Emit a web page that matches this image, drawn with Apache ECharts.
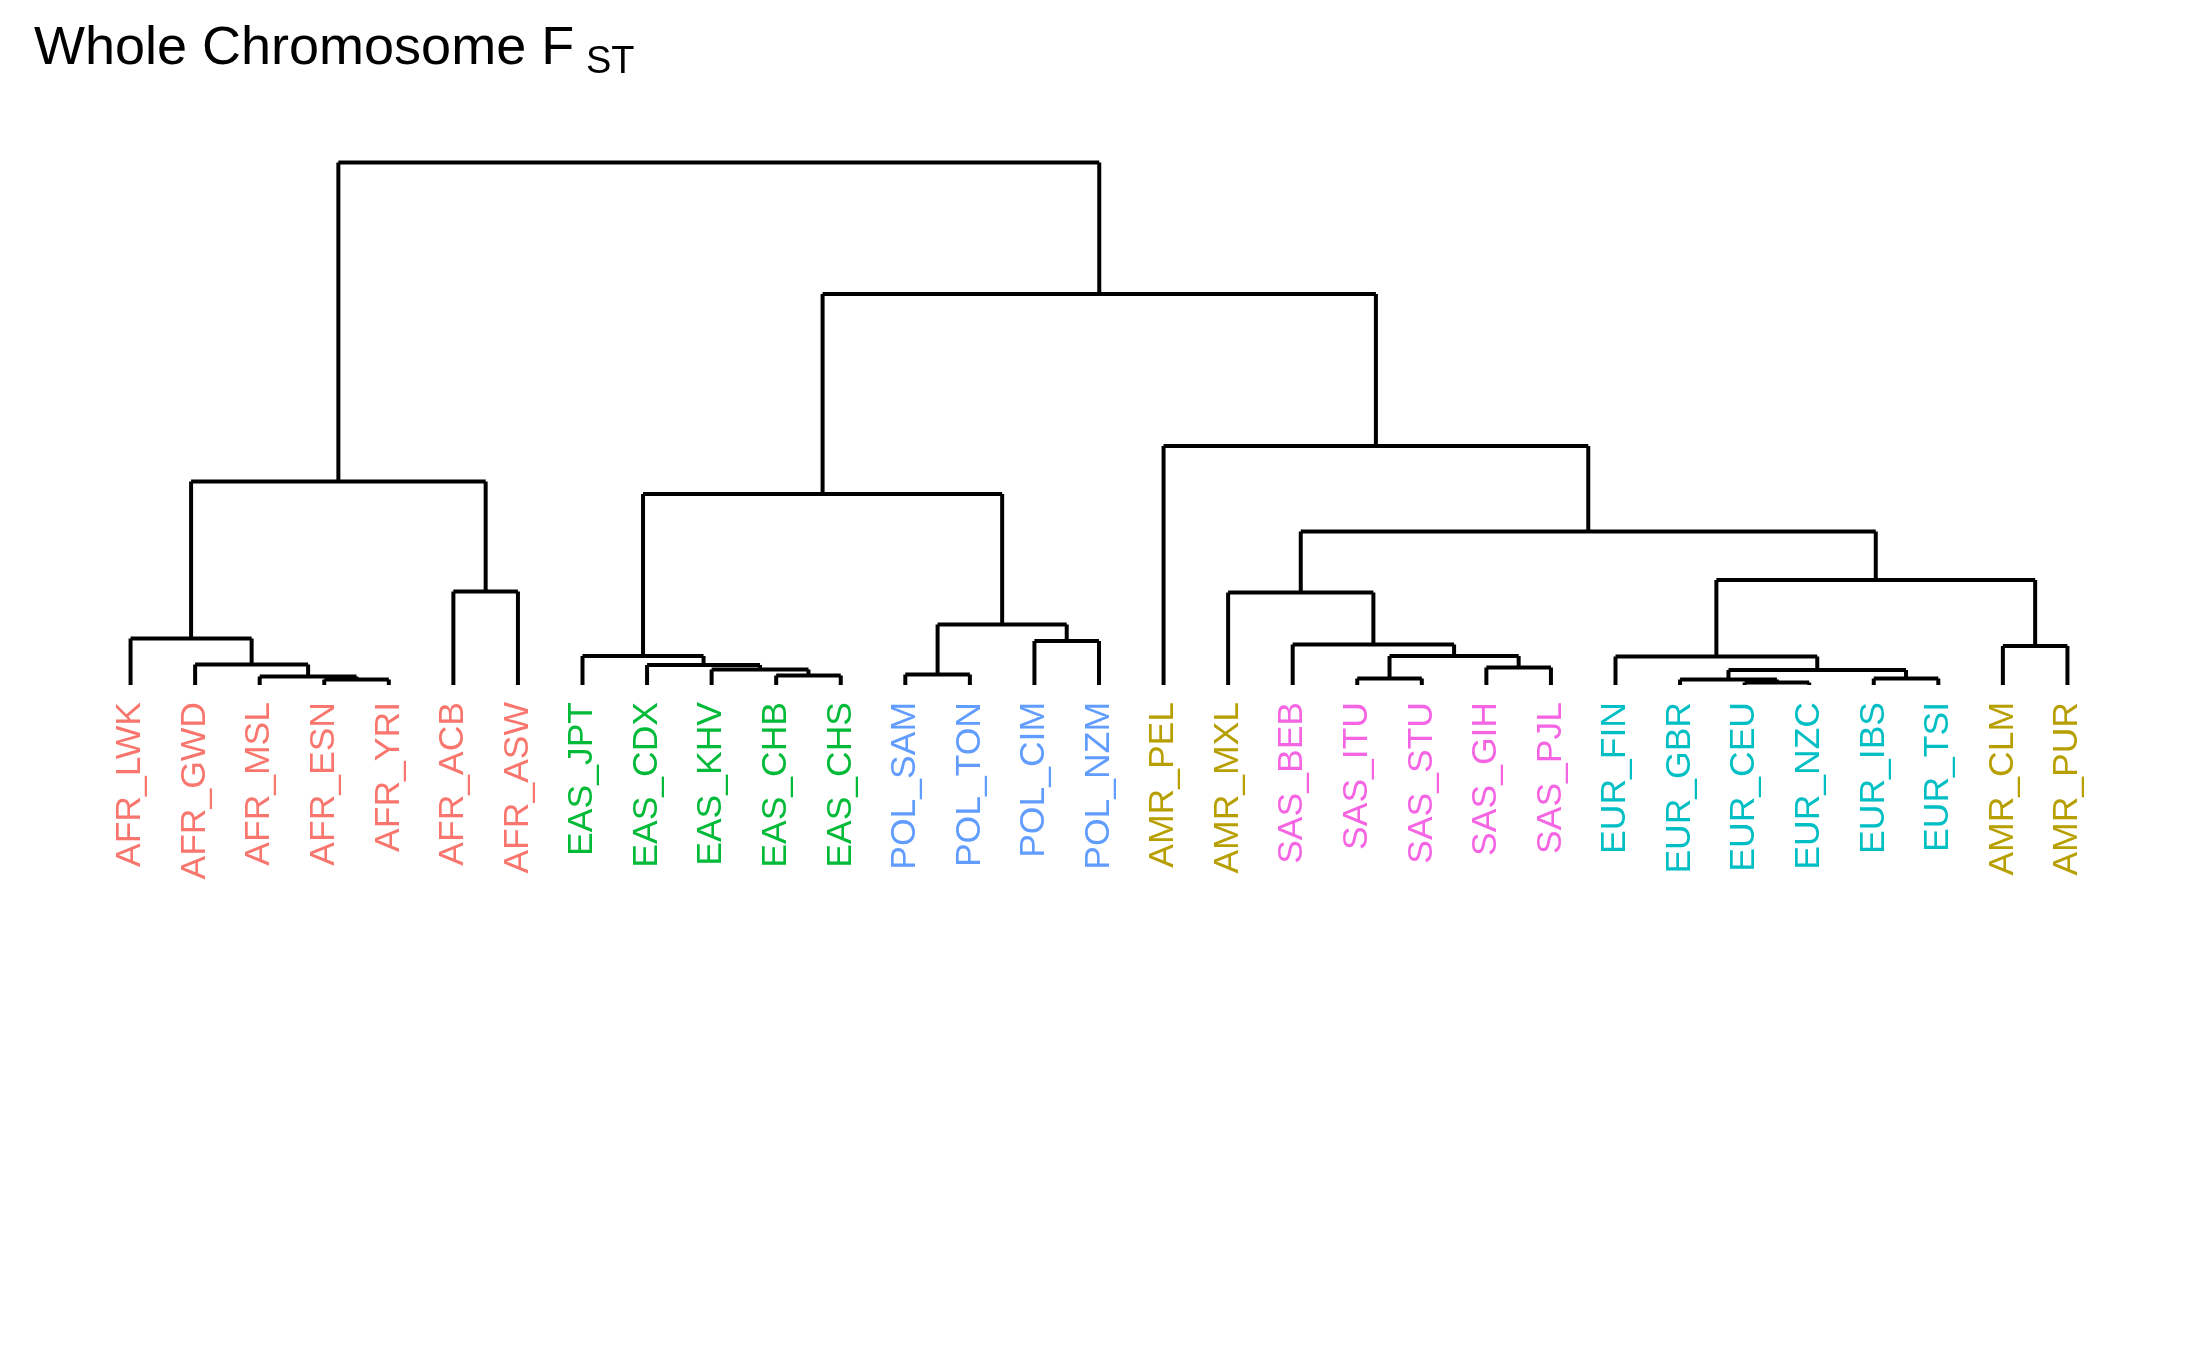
<!DOCTYPE html>
<html>
<head>
<meta charset="utf-8">
<script src="https://cdn.jsdelivr.net/npm/echarts@6/dist/echarts.min.js"></script>
<style>
  html, body { margin: 0; padding: 0; background: #ffffff; }
  #chart { width: 2187px; height: 1350px; }
</style>
</head>
<body>
<div id="chart"></div>
<script>
// ---- Data ----
var leafLabels = ['AFR_LWK','AFR_GWD','AFR_MSL','AFR_ESN','AFR_YRI','AFR_ACB','AFR_ASW',
  'EAS_JPT','EAS_CDX','EAS_KHV','EAS_CHB','EAS_CHS',
  'POL_SAM','POL_TON','POL_CIM','POL_NZM',
  'AMR_PEL','AMR_MXL',
  'SAS_BEB','SAS_ITU','SAS_STU','SAS_GIH','SAS_PJL',
  'EUR_FIN','EUR_GBR','EUR_CEU','EUR_NZC','EUR_IBS','EUR_TSI',
  'AMR_CLM','AMR_PUR'];
var leafGroups = leafLabels.map(function (s) { return s.split('_')[0]; });
var groupNames = ['AFR','AMR','EAS','EUR','POL','SAS'];
var groupColors = ['#F8766D','#B79F00','#00BA38','#00BFC4','#619CFF','#F564E3'];

// hclust-style merges: negative = leaf (-(index+1)), positive = earlier merge (1-based)
var mergeLeft  = [-26, -4, -25, -20, -28, -3, -11, -13, 3, -10, -22, -9, -2, -24, -8, 4, -30, -19, -15, -1, 8, -18, -6, 14, 22, 15, 20, -17, 26, 27];
var mergeRight = [-27, -5, 1, -21, -29, 2, -12, -14, 5, 7, -23, 10, 6, 9, 12, 11, -31, 16, -16, 13, 19, 18, -7, 17, 24, 21, 23, 25, 28, 29];
var mergeHeight = [0.0005, 0.0011, 0.0011, 0.0013, 0.0013, 0.0017, 0.0019, 0.0021, 0.0030, 0.0031,
  0.0035, 0.0040, 0.0041, 0.0057, 0.0058, 0.0058, 0.0078, 0.0081, 0.0088, 0.0093,
  0.0121, 0.0185, 0.0187, 0.0210, 0.0307, 0.0382, 0.0407, 0.0478, 0.0782, 0.1045];

// ---- Build dendrogram segments (in data coordinates) ----
var nodeX = [], nodeH = [];
function childPos(ref) {
  if (ref < 0) return [-ref - 1, 0];
  return [nodeX[ref - 1], nodeH[ref - 1]];
}
var segments = [];
for (var k = 0; k < mergeHeight.length; k++) {
  var a = childPos(mergeLeft[k]), b = childPos(mergeRight[k]), h = mergeHeight[k];
  nodeX[k] = (a[0] + b[0]) / 2;
  nodeH[k] = h;
  segments.push([a[0], h, b[0], h]);
  segments.push([a[0], a[1], a[0], h]);
  segments.push([b[0], b[1], b[0], h]);
}

var rich = {};
groupNames.forEach(function (g, i) { rich[g] = { color: groupColors[i] }; });

var FONT = "'Liberation Sans', Arial, Helvetica, sans-serif";

var chart = echarts.init(document.getElementById('chart'));
chart.setOption({
  backgroundColor: '#ffffff',
  animation: false,
  title: [
    { text: 'Whole Chromosome F', left: 29, top: 17,
      textStyle: { fontFamily: FONT, fontSize: 54, fontWeight: 'normal', color: '#000000' } },
    { text: 'ST', left: 581, top: 39,
      textStyle: { fontFamily: FONT, fontSize: 38, fontWeight: 'normal', color: '#000000' } }
  ],
  grid: { left: 66, right: 55, top: 160, bottom: 665, containLabel: false },
  xAxis: {
    type: 'value', min: -1, max: 31, interval: 1,
    axisLine: { show: false }, axisTick: { show: false }, splitLine: { show: false },
    axisLabel: {
      rotate: 90, margin: 17, fontFamily: FONT, fontSize: 35.5,
      showMinLabel: true, showMaxLabel: true,
      formatter: function (v) {
        var i = Math.round(v);
        if (i < 0 || i >= leafLabels.length) return '';
        return '{' + leafGroups[i] + '|' + leafLabels[i] + '}';
      },
      rich: rich
    }
  },
  yAxis: {
    type: 'value', min: 0, max: 0.105, show: false,
    splitLine: { show: false }
  },
  series: [{
    type: 'custom',
    clip: false,
    data: segments,
    encode: { x: [0, 2], y: [1, 3] },
    renderItem: function (params, api) {
      var p1 = api.coord([api.value(0), api.value(1)]);
      var p2 = api.coord([api.value(2), api.value(3)]);
      return {
        type: 'line',
        shape: { x1: p1[0], y1: p1[1], x2: p2[0], y2: p2[1] },
        style: { stroke: '#000000', lineWidth: 4, lineCap: 'butt' }
      };
    }
  }]
});
</script>
</body>
</html>
